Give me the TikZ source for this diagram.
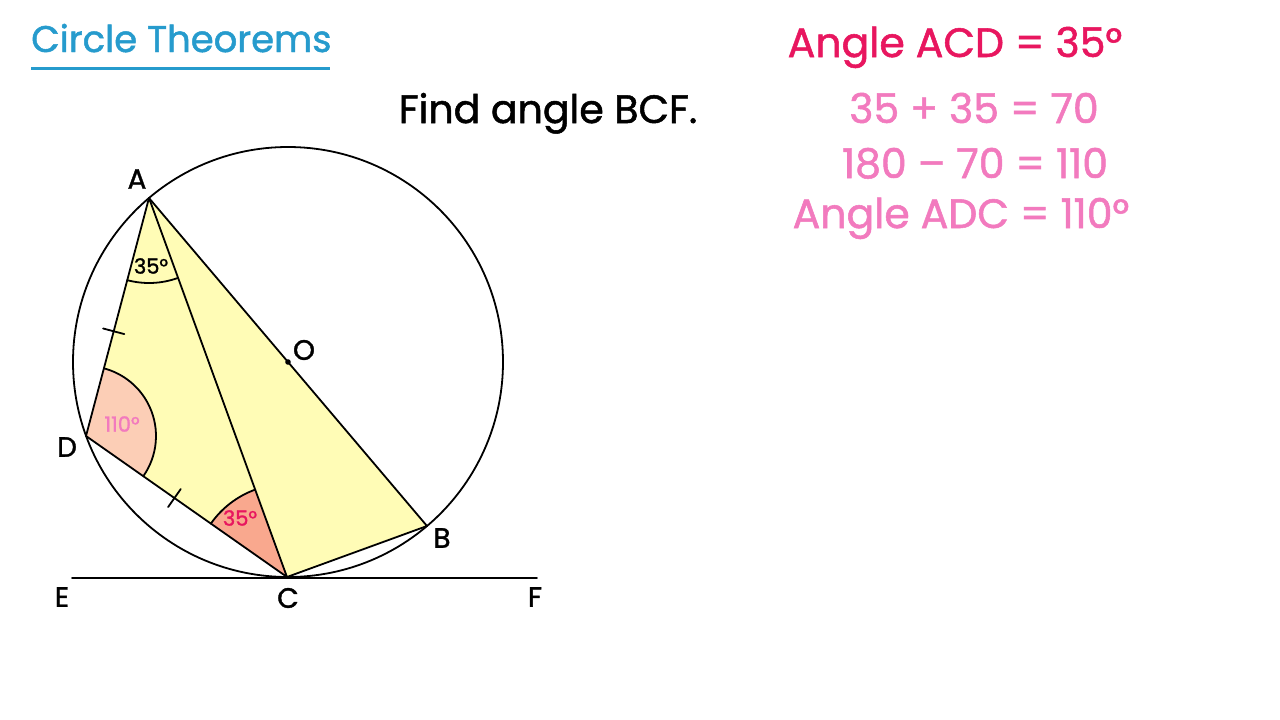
\documentclass[tikz,border=0pt]{standalone}
\usepackage{fontspec}
\setmainfont{Poppins}[FakeBold=1.3]
\usetikzlibrary{angles,calc}
\definecolor{titleblue}{RGB}{38,155,205}
\definecolor{deeppink}{RGB}{232,22,95}
\definecolor{softpink}{RGB}{242,122,190}
\definecolor{yellowfill}{RGB}{255,252,182}
\definecolor{lightsalmon}{RGB}{252,206,182}
\definecolor{darksalmon}{RGB}{249,168,142}
\tikzset{
  geo/.style={line width=1.8pt, line join=round, line cap=round},
  ptlabel/.style={font=\fontsize{28}{28}\selectfont, inner sep=0pt},
  anglelab/.style={font=\fontsize{21}{21}\selectfont, inner sep=0pt},
  bigtext/.style={font=\fontsize{39.5}{39.5}\selectfont, inner sep=0pt, anchor=base},
  worktext/.style={font=\fontsize{41}{41}\selectfont, inner sep=0pt, anchor=base},
}
\begin{document}
\begin{tikzpicture}[x=1pt,y=1pt]
\useasboundingbox (0,0) rectangle (1280,-720);
\fill[white] (0,0) rectangle (1280,-720);

% points
\coordinate (O) at (288,-362);
\coordinate (A) at (149,-198);
\coordinate (B) at (427,-526);
\coordinate (C) at (287,-577);
\coordinate (D) at (86,-436);
\coordinate (E) at (72,-578);
\coordinate (F) at (537,-578);

% yellow quadrilateral
\fill[yellowfill] (A) -- (D) -- (C) -- (B) -- cycle;

% angle sectors
\pic[fill=lightsalmon, draw, geo, angle radius=70pt] {angle = C--D--A};
\pic[fill=darksalmon, draw, geo, angle radius=93pt] {angle = A--C--D};
\pic[draw, geo, angle radius=85pt] {angle = D--A--C};

% circle
\draw[geo] (O) circle (215pt);

% lines
\draw[geo] (A) -- (D) -- (C) -- (A);
\draw[geo] (A) -- (B) -- (C);
\draw[geo] (E) -- (F);

% tick marks
\coordinate (t1) at ($(A)!0.56!(D)$);
\coordinate (t2) at ($(D)!0.44!(C)$);
\draw[geo] ($(t1)!11pt!90:(D)$) -- ($(t1)!11pt!-90:(D)$);
\draw[geo] ($(t2)!11pt!90:(C)$) -- ($(t2)!11pt!-90:(C)$);

% centre dot
\fill (O) circle (2.8pt);

% point labels
\node[ptlabel] (lA) at (137,-179) {A};
\node[ptlabel] (lO) at (304,-350) {O};
\node[ptlabel] (lD) at (67,-447) {D};
\node[ptlabel] (lB) at (442,-538) {B};
\node[ptlabel] (lE) at (62,-597) {E};
\node[ptlabel] (lC) at (288,-598) {C};
\node[ptlabel] (lF) at (535,-597) {F};

% angle labels
\node[anglelab] (aA) at (151,-266) {35°};
\node[anglelab, text=softpink] (aD) at (122,-424) {110°};
\node[anglelab, text=deeppink] (aC) at (240,-518) {35°};

% title
\node[bigtext, anchor=base west, text=titleblue, font=\fontsize{37}{37}\selectfont] (title) at (31,-52) {Circle Theorems};
\draw[titleblue, line width=2.5pt] (31,-68.5) -- (330,-68.5);

% question
\node[bigtext] (q) at (548,-123) {Find angle BCF.};

% working
\node[worktext, text=deeppink] (w1) at (955,-57) {Angle ACD = 35°};
\node[worktext, text=softpink] (w2) at (974,-123) {35 + 35 = 70};
\node[worktext, text=softpink] (w3) at (975,-178) {180 – 70 = 110};
\node[worktext, text=softpink] (w4) at (961,-228) {Angle ADC = 110°};
\end{tikzpicture}
\end{document}
